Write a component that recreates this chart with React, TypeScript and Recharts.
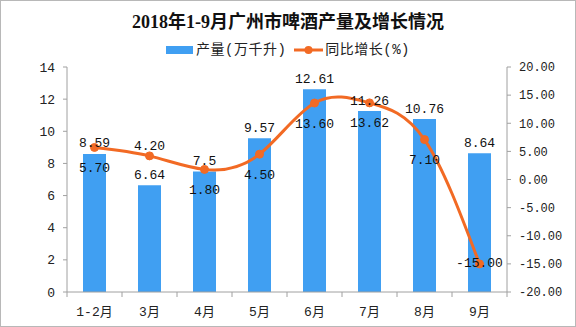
import React from 'react';
import { Bar, ComposedChart, LabelList, Line, XAxis, YAxis } from 'recharts';

const categories = ['1-2月', '3月', '4月', '5月', '6月', '7月', '8月', '9月'];
const output = [8.59, 6.64, 7.5, 9.57, 12.61, 11.26, 10.76, 8.64];
const growth = [5.7, 4.2, 1.8, 4.5, 13.6, 13.62, 7.1, -15.0];
const leftTicks = [0, 2, 4, 6, 8, 10, 12, 14];
const rightTicks = [-20, -15, -10, -5, 0, 5, 10, 15, 20];

// where each growth label sits relative to its point
const growthLabelPlace = ['below', 'above', 'below', 'below', 'below', 'below', 'below', 'center'];

const data = categories.map((c, i) => ({ name: c, output: output[i], growth: growth[i] }));

const BAR = '#409ff2';
const LINE = '#f26a24';
const AXIS = '#a0a0a0';
const NUM_FONT = "'Liberation Mono', 'Noto Sans CJK SC', monospace";
const CJK_FONT = "'Liberation Serif', 'Noto Sans CJK SC', serif";

const BAND = 440 / categories.length;

const XTick = (props: any) => {
  const { x, y, payload, index } = props;
  return (
    <g>
      <line x1={x - BAND / 2} x2={x - BAND / 2} y1={y - 8} y2={y - 3} stroke={AXIS} />
      {index === categories.length - 1 && (
        <line x1={x + BAND / 2} x2={x + BAND / 2} y1={y - 8} y2={y - 3} stroke={AXIS} />
      )}
      <text x={x} y={y + 12} textAnchor="middle" dominantBaseline="central" fontSize={13} fill="#222" fontFamily={NUM_FONT}>
        {payload.value}
      </text>
    </g>
  );
};

const GrowthLabel = (props: any) => {
  const { x, y, value, index } = props;
  const place = growthLabelPlace[index];
  const dy = place === 'below' ? 21 : place === 'above' ? -9 : 0;
  return (
    <text x={x} y={y + dy} textAnchor="middle" dominantBaseline="central" fontSize={13} fill="#111" fontFamily={NUM_FONT}>
      {Number(value).toFixed(2)}
    </text>
  );
};

const OutputLabel = (props: any) => {
  const { x, y, width, value } = props;
  return (
    <text x={x + width / 2} y={y - 10} textAnchor="middle" dominantBaseline="central" fontSize={13} fill="#111" fontFamily={NUM_FONT}>
      {String(value)}
    </text>
  );
};

export default function App() {
  return (
    <div style={{ position: 'absolute', left: 0, top: 0, width: 576, height: 327, background: '#fff' }}>
      <div
        style={{
          position: 'absolute',
          top: 13,
          left: 0,
          width: 576,
          lineHeight: '18px',
          textAlign: 'center',
          fontFamily: CJK_FONT,
          fontWeight: 'bold',
          fontSize: 18,
          color: '#111',
        }}
      >
        2018年1-9月广州市啤酒产量及增长情况
      </div>
      <div
        style={{
          position: 'absolute',
          top: 42,
          left: 0,
          width: 576,
          lineHeight: '16px',
          display: 'flex',
          justifyContent: 'center',
          alignItems: 'center',
          fontFamily: NUM_FONT,
          fontSize: 14,
          letterSpacing: 0.5,
          color: '#222',
        }}
      >
        <span style={{ display: 'inline-block', width: 27, height: 8, background: BAR, marginRight: 3 }} />
        <span>产量(万千升)</span>
        <svg width={29} height={10} style={{ marginLeft: 8, marginRight: 2 }}>
          <line x1={0} x2={29} y1={5} y2={5} stroke={LINE} strokeWidth={3} />
          <circle cx={14.5} cy={5} r={4} fill={LINE} />
        </svg>
        <span>同比增长(%)</span>
      </div>
      <ComposedChart width={576} height={327} data={data} margin={{ top: 67, right: 9, bottom: 5, left: 0 }}>
        <XAxis
          dataKey="name"
          height={30}
          stroke={AXIS}
          tickLine={false}
          tick={<XTick />}
          interval={0}
        />
        <YAxis
          yAxisId="left"
          width={67}
          domain={[0, 14]}
          ticks={leftTicks}
          stroke={AXIS}
          tickSize={4}
          tickMargin={8}
          tick={{ fill: '#222', fontSize: 13, fontFamily: NUM_FONT }}
        />
        <YAxis
          yAxisId="right"
          orientation="right"
          width={60}
          domain={[-20, 20]}
          ticks={rightTicks}
          stroke={AXIS}
          tickSize={4}
          tickMargin={8}
          tickFormatter={(v: number) => v.toFixed(2)}
          tick={{ fill: '#222', fontSize: 12, fontFamily: NUM_FONT }}
        />
        <Bar yAxisId="left" dataKey="output" fill={BAR} barSize={23} isAnimationActive={false}>
          <LabelList dataKey="output" content={<OutputLabel />} />
        </Bar>
        <Line
          yAxisId="right"
          type="natural"
          dataKey="growth"
          stroke={LINE}
          strokeWidth={3}
          dot={{ r: 4, fill: LINE, stroke: LINE, strokeWidth: 1 }}
          activeDot={false}
          isAnimationActive={false}
        >
          <LabelList dataKey="growth" content={<GrowthLabel />} />
        </Line>
      </ComposedChart>
      <div
        style={{
          position: 'absolute',
          left: 0,
          top: 0,
          width: 576,
          height: 327,
          boxSizing: 'border-box',
          border: '1px solid #b8b8b8',
          pointerEvents: 'none',
        }}
      />
    </div>
  );
}
